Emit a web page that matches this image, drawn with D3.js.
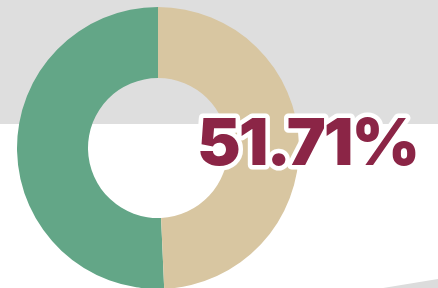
<!DOCTYPE html>
<html>
<head>
<meta charset="utf-8">
<script src="https://cdn.jsdelivr.net/npm/d3@7"></script>
<style>
  html, body { margin: 0; padding: 0; background: #fff; }
  svg { display: block; }
</style>
</head>
<body>
<div id="chart"></div>
<script>
const labels = ['Yes', 'No'];
const values = [50.7, 49.3];
const colors = ['#63a687', '#d8c6a1'];
const headline = '51.71%';

const width = 438;
const height = 288;
const cx = 158;
const cy = 148;
const outerR = 141;
const innerR = 70;

const svg = d3.select('#chart').append('svg').attr('width', width).attr('height', height);

// background bands
svg.append('rect').attr('x', 0).attr('y', 0).attr('width', width).attr('height', 124).attr('fill', '#dedede');
svg.append('path').attr('d', `M383,${height} L${width},279 L${width},${height} Z`).attr('fill', '#dcdcdc');

// green runs counter-clockwise from 12 o'clock, tan clockwise
const pie = d3.pie().sort(null).value(d => d)
  .startAngle(0).endAngle(-2 * Math.PI);
const arc = d3.arc().innerRadius(innerR).outerRadius(outerR);

const g = svg.append('g').attr('transform', `translate(${cx},${cy})`);
g.selectAll('path').data(pie(values)).enter().append('path')
  .attr('d', arc)
  .attr('fill', (d, i) => colors[i]);

// big number with white outline
const txt = svg.append('text')
  .attr('x', 307.5).attr('y', 164.5)
  .attr('text-anchor', 'middle')
  .attr('font-family', 'Inter, Lato, sans-serif')
  .attr('font-weight', 900)
  .attr('font-size', 65)
  .attr('letter-spacing', -2)
  .attr('fill', '#8b2546')
  .attr('stroke', '#fff')
  .attr('stroke-width', 9)
  .attr('stroke-linejoin', 'round')
  .attr('paint-order', 'stroke')
  .text(headline);

txt.attr('textLength', 221).attr('lengthAdjust', 'spacingAndGlyphs');
</script>
</body>
</html>
